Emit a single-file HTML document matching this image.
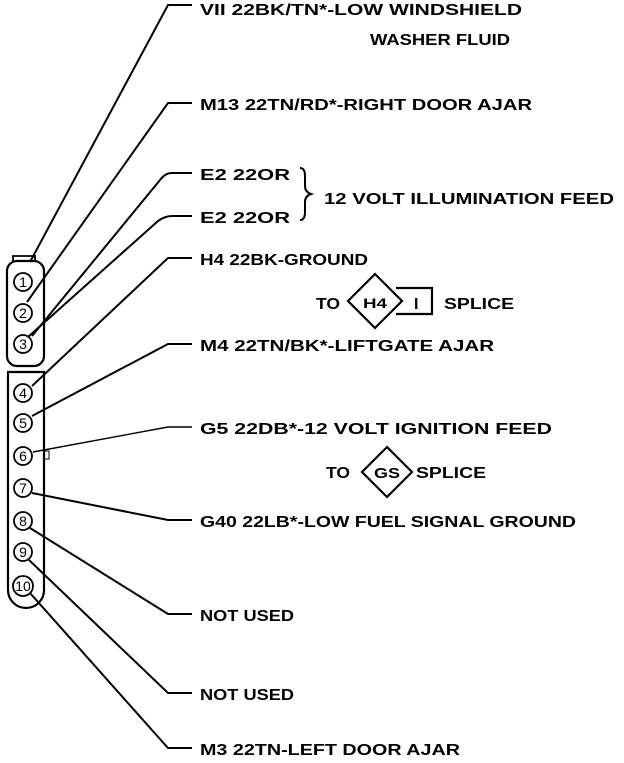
<!DOCTYPE html>
<html><head><style>html,body{margin:0;padding:0;background:#fff}</style></head><body>
<svg width="624" height="758" viewBox="0 0 624 758" xmlns="http://www.w3.org/2000/svg">
<g fill="none" stroke="#000" stroke-width="2.2">
<rect x="7" y="261" width="37" height="105" rx="10"/>
<path d="M8 372 V590 a18 18 0 0 0 36 0 V372 Z"/>
<path d="M13 262 v-6 h22 v6" stroke-width="1.8"/>
<rect x="44" y="451" width="5" height="8" stroke-width="1"/>
<g stroke-width="1.8">
<circle cx="23" cy="282" r="9"/><circle cx="23" cy="313" r="9"/><circle cx="23" cy="344" r="9"/>
<circle cx="23" cy="393" r="9"/><circle cx="23" cy="423" r="9"/><circle cx="23" cy="456" r="9"/>
<circle cx="23" cy="488" r="9"/><circle cx="23" cy="521" r="9"/><circle cx="23" cy="552" r="9"/>
<circle cx="23" cy="586" r="10"/>
</g>
<g stroke-width="2">
<path d="M192 5 H168 L30 262"/>
<path d="M192 103 H168 L27 302"/>
<path d="M192 173 H172 Q165 173 160 180 L32 336"/>
<path d="M192 216 H172 Q165 216 158 221 L28 337"/>
<path d="M192 258 H168 L32 386"/>
<path d="M192 344 H168 L32 416"/>
<path d="M192 427 H168 L33 452" stroke-width="1.4"/>
<path d="M192 520 H168 L32 493"/>
<path d="M192 614 H168 L30 528"/>
<path d="M192 693 H168 L29 560"/>
<path d="M192 748 H168 L30 593"/>
</g>
<path d="M300 168 q5 0 5 8 v10 q0 6 6 8 q-6 2 -6 8 v10 q0 8 -5 8" stroke-width="2"/>
<path d="M375 274 L402 301 L375 328 L348 301 Z" stroke-width="2.2"/>
<path d="M396 288 H432 V314 H396" stroke-width="2.2"/>
<path d="M387 447 L412 472 L387 497 L362 472 Z" stroke-width="2.2"/>
</g>
<g font-family="Liberation Sans, sans-serif" font-weight="bold" font-size="16" fill="#000">
<text x="200" y="15" textLength="322" lengthAdjust="spacingAndGlyphs">VII 22BK/TN*-LOW WINDSHIELD</text>
<text x="370" y="45" textLength="140" lengthAdjust="spacingAndGlyphs">WASHER FLUID</text>
<text x="200" y="110" textLength="332" lengthAdjust="spacingAndGlyphs">M13 22TN/RD*-RIGHT DOOR AJAR</text>
<text x="200" y="180" textLength="90" lengthAdjust="spacingAndGlyphs">E2 22OR</text>
<text x="200" y="223" textLength="90" lengthAdjust="spacingAndGlyphs">E2 22OR</text>
<text x="324" y="204" textLength="290" lengthAdjust="spacingAndGlyphs">12 VOLT ILLUMINATION FEED</text>
<text x="200" y="265" textLength="168" lengthAdjust="spacingAndGlyphs">H4 22BK-GROUND</text>
<text x="316" y="309" textLength="24" lengthAdjust="spacingAndGlyphs">TO</text>
<text x="363" y="308" font-size="14" textLength="24" lengthAdjust="spacingAndGlyphs">H4</text>
<text x="414" y="309">I</text>
<text x="444" y="309" textLength="70" lengthAdjust="spacingAndGlyphs">SPLICE</text>
<text x="200" y="351" textLength="294" lengthAdjust="spacingAndGlyphs">M4 22TN/BK*-LIFTGATE AJAR</text>
<text x="200" y="434" textLength="352" lengthAdjust="spacingAndGlyphs">G5 22DB*-12 VOLT IGNITION FEED</text>
<text x="326" y="478" textLength="24" lengthAdjust="spacingAndGlyphs">TO</text>
<text x="374" y="478" font-size="15" textLength="26" lengthAdjust="spacingAndGlyphs">GS</text>
<text x="416" y="478" textLength="70" lengthAdjust="spacingAndGlyphs">SPLICE</text>
<text x="200" y="527" textLength="376" lengthAdjust="spacingAndGlyphs">G40 22LB*-LOW FUEL SIGNAL GROUND</text>
<text x="200" y="621" textLength="94" lengthAdjust="spacingAndGlyphs">NOT USED</text>
<text x="200" y="700" textLength="94" lengthAdjust="spacingAndGlyphs">NOT USED</text>
<text x="200" y="755" textLength="260" lengthAdjust="spacingAndGlyphs">M3 22TN-LEFT DOOR AJAR</text>
</g>
<g font-family="Liberation Sans, sans-serif" font-size="14" fill="#000" text-anchor="middle">
<text x="23" y="287">1</text><text x="23" y="318">2</text><text x="23" y="349">3</text>
<text x="23" y="398">4</text><text x="23" y="428">5</text><text x="23" y="461">6</text>
<text x="23" y="493">7</text><text x="23" y="526">8</text><text x="23" y="557">9</text>
<text x="23" y="591">10</text>
</g>
</svg>
</body></html>
